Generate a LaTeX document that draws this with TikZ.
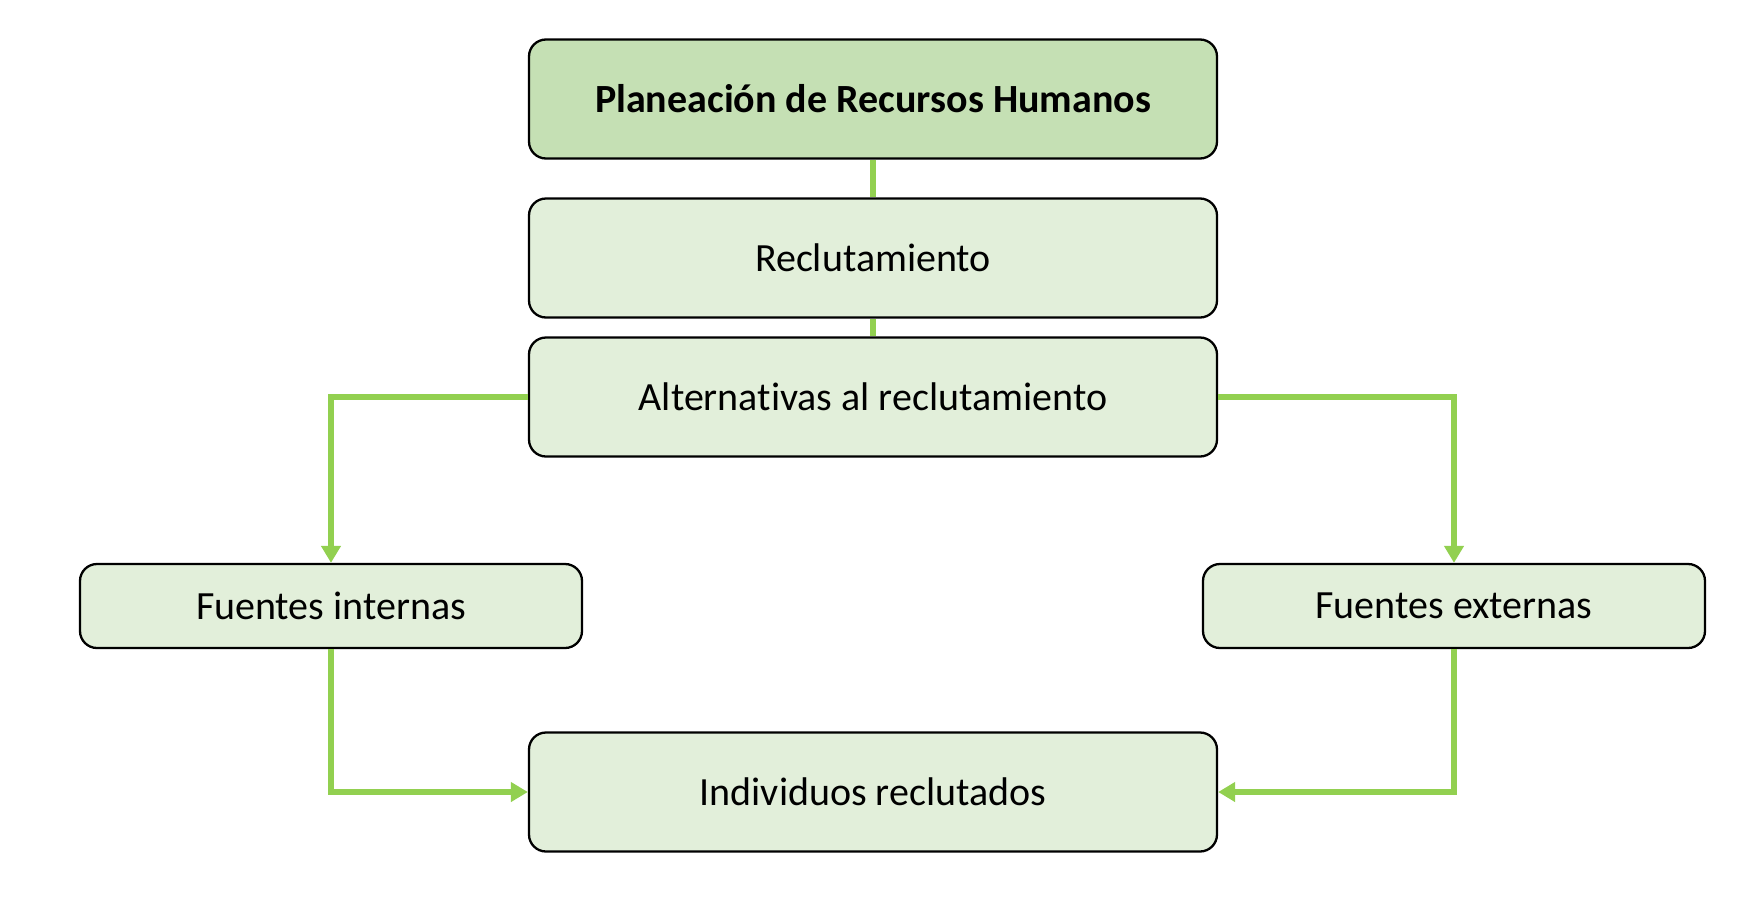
\documentclass[tikz,border=0pt]{standalone}
\usepackage{fontspec}
\setmainfont[Ligatures=NoCommon]{Carlito}
\usetikzlibrary{arrows.meta}
\definecolor{topfill}{HTML}{C5E0B4}
\definecolor{boxfill}{HTML}{E2EFDA}
\definecolor{conn}{HTML}{92D050}
\tikzset{
  box/.style={draw=black, line width=2.3pt, rounded corners=17pt, fill=boxfill,
    inner sep=0pt, font=\fontsize{40}{47}\selectfont, text=black},
  bigbox/.style={box, minimum width=688pt, minimum height=119pt},
  smallbox/.style={box, minimum width=502pt, minimum height=84pt},
  link/.style={draw=conn, line width=6pt},
  arr/.style={link, -{Triangle[length=17pt,width=19pt]}},
}
\begin{document}
\begin{tikzpicture}[x=1pt,y=-1pt]
\useasboundingbox (0,0) rectangle (1762,911);
\node[bigbox, fill=topfill, font=\fontsize{40}{47}\selectfont\bfseries] (plan) at (873,99) {Planeación de Recursos Humanos};
\node[bigbox] (rec) at (873,258) {Reclutamiento};
\node[bigbox] (alt) at (873,397) {Alternativas al reclutamiento};
\node[smallbox] (fi) at (331,606) {Fuentes internas};
\node[smallbox] (fe) at (1454,606) {Fuentes externas};
\node[bigbox] (ind) at (873,792) {Individuos reclutados};
\draw[link] (plan.south) -- (rec.north);
\draw[link] (rec.south) -- (alt.north);
\draw[arr] (alt.west) -| (fi.north);
\draw[arr] (alt.east) -| (fe.north);
\draw[arr] (fi.south) |- (ind.west);
\draw[arr] (fe.south) |- (ind.east);
\end{tikzpicture}
\end{document}
